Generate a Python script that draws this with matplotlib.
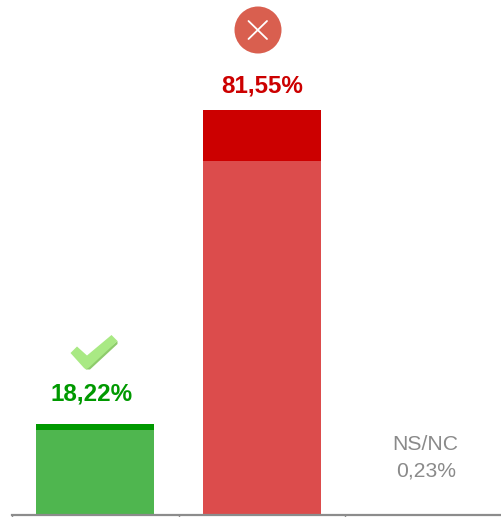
import matplotlib
matplotlib.use('Agg')
import matplotlib.pyplot as plt
from matplotlib.patches import Circle, Polygon

plt.rcParams['font.family'] = ['Liberation Sans', 'DejaVu Sans']

W, H = 502, 517

categories = ['Si', 'No', 'NS/NC']
labels = ['18,22%', '81,55%', '0,23%']
base_values = [17.2, 71.3, 0.23]
cap_values = [1.02, 10.25, 0.0]
base_colors = ['#4FB64F', '#DC4C4C', '#8A8A8A']
cap_colors = ['#009900', '#CC0000', '#8A8A8A']
label_colors = ['#009900', '#CC0000', '#8A8A8A']
label_offsets = [(-3, 14), (0, 9)]

fig = plt.figure(figsize=(W / 100, H / 100), dpi=100)

# plot area runs off the right side of the picture, like the original
left, bottom = 12, 2
ax = fig.add_axes([left / W, bottom / H, (W - left) / W, (H - bottom) / H])

x = range(len(categories))
ax.bar(x, base_values, width=0.708, color=base_colors, linewidth=0)
ax.bar(x, cap_values, width=0.708, bottom=base_values, color=cap_colors, linewidth=0)

for i in [0, 1]:
    ax.annotate(labels[i], (i, base_values[i] + cap_values[i]), xytext=label_offsets[i],
                textcoords='offset points', ha='center', va='bottom',
                fontsize=17.4, fontweight='bold', color=label_colors[i])

ax.annotate('NS/NC\n0,23%', (2, base_values[2]), xytext=(-2.2, 24),
            textcoords='offset points', ha='center', va='bottom',
            fontsize=15.2, color=label_colors[2], linespacing=1.5)

for s in ['top', 'left', 'right']:
    ax.spines[s].set_visible(False)
ax.spines['bottom'].set_color('#8C8C8C')
ax.spines['bottom'].set_linewidth(1.6)
ax.set_yticks([])
ax.set_xticks([-0.5, 0.5, 1.5])
ax.set_xticklabels([])
ax.tick_params(axis='x', direction='out', length=1.5, width=1, color='#8C8C8C')

# limits go last, set_xticks would widen them otherwise
ax.set_xlim(-0.5, (W - left) / 166.7 - 0.5)
ax.set_ylim(0, (H - bottom) / 4.97)

# icons, in pixel coords
icons = fig.add_axes([0, 0, 1, 1])
icons.set_xlim(0, W)
icons.set_ylim(H, 0)
icons.axis('off')
icons.patch.set_alpha(0)

icons.add_patch(Circle((258, 30), 23.5, color='#D95F4F', linewidth=0))
icons.plot([248.5, 267], [21, 39], color='white', lw=1.3, solid_capstyle='round')
icons.plot([267, 248.5], [21, 39], color='white', lw=1.3, solid_capstyle='round')

icons.add_patch(Polygon([(86, 369.5), (90, 369.5), (117.5, 344), (117.5, 341), (87, 366)],
                        closed=True, color='#8ECB6C', linewidth=0))
icons.add_patch(Polygon([(70.5, 353), (77, 346.5), (87, 355.5), (111.5, 335), (117.5, 341), (89, 367.5), (86, 369.5), (84, 368)],
                        closed=True, color='#A9E984', linewidth=0))

fig.savefig('out.png', dpi=100)
